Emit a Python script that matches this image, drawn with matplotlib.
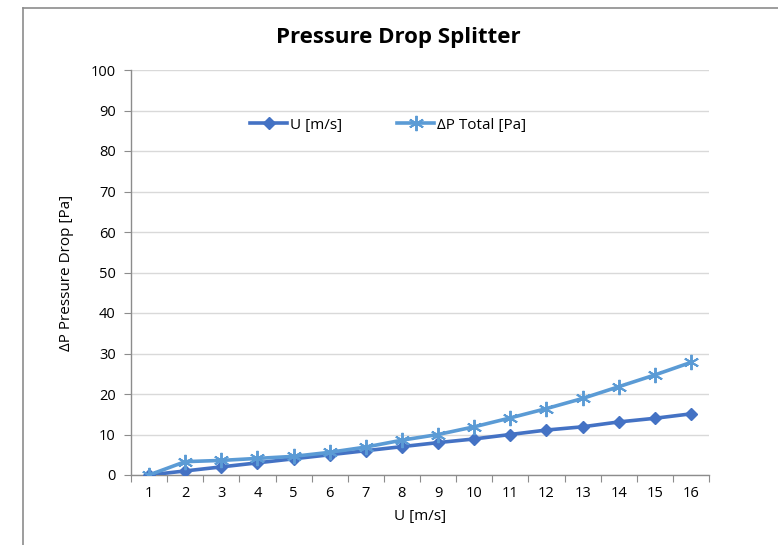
import matplotlib
matplotlib.use("Agg")
import matplotlib.pyplot as plt
from matplotlib.lines import Line2D

plt.rcParams['font.family'] = ['Open Sans', 'DejaVu Sans']

categories = list(range(1, 17))
u_values = [0, 1, 2, 3, 4, 5, 6, 7, 8, 8.9, 10, 11.1, 11.9, 13.1, 14.0, 15.1]
dp_values = [0, 3.3, 3.6, 4.1, 4.6, 5.6, 6.9, 8.6, 10.0, 11.9, 14.1, 16.4, 18.9, 21.8, 24.7, 27.8]
y_ticks = list(range(0, 101, 10))

c_u = '#4472C4'
c_dp = '#5B9BD5'

fig = plt.figure(figsize=(7.78, 5.45), dpi=100)
fig.patch.set_facecolor('white')

# outer chart frame (only top and left visible)
fig.add_artist(Line2D([23/778, 1.0], [1 - 8/545, 1 - 8/545], transform=fig.transFigure,
                      color='#8c8c8c', lw=1.2))
fig.add_artist(Line2D([23/778, 23/778], [1 - 8/545, 0], transform=fig.transFigure,
                      color='#8c8c8c', lw=1.2))

ax = fig.add_axes([131/778, 1 - 475/545, 578/778, 405/545])
x = list(range(len(categories)))

ax.plot(x, u_values, color=c_u, lw=2.6, marker='D', markersize=6.5,
        markerfacecolor=c_u, markeredgecolor=c_u, label='U [m/s]', zorder=3)
ax.plot(x, dp_values, color=c_dp, lw=2.6, marker=(6, 2, 0), markersize=11,
        markeredgewidth=1.4, markeredgecolor=c_dp, label='ΔP Total [Pa]', zorder=4)

ax.set_xlim(-0.5, len(categories) - 0.5)
ax.set_ylim(0, 100)
ax.set_yticks(y_ticks)
ax.set_xticks([i - 0.5 for i in range(len(categories) + 1)], minor=False)
ax.set_xticklabels([])
ax.set_xticks(x, minor=True)
ax.set_xticklabels([str(c) for c in categories], minor=True)
ax.tick_params(axis='x', which='minor', length=0, labelsize=10.5, pad=8, colors='black')
ax.tick_params(axis='x', which='major', length=5, color='#8c8c8c', direction='out')
ax.tick_params(axis='y', length=5, color='#8c8c8c', direction='out', labelsize=10.5, pad=6)

ax.grid(axis='y', color='#d9d9d9', lw=1.0)
ax.set_axisbelow(True)
for s in ['top', 'right']:
    ax.spines[s].set_visible(False)
for s in ['left', 'bottom']:
    ax.spines[s].set_color('#8c8c8c')
    ax.spines[s].set_linewidth(1.0)

ax.set_xlabel('U [m/s]', fontsize=11, labelpad=6)
ax.set_ylabel('ΔP Pressure Drop [Pa]', fontsize=11, labelpad=12)

fig.text(398/778, 1 - 38/545, 'Pressure Drop Splitter', ha='center', va='center',
         fontsize=16, fontweight='bold')

leg = ax.legend(loc='center', bbox_to_anchor=(0.445, 0.864), ncol=2, frameon=False,
                fontsize=11, handlelength=2.4, columnspacing=3.6, handletextpad=0.2)

fig.savefig('out.png', dpi=100)
